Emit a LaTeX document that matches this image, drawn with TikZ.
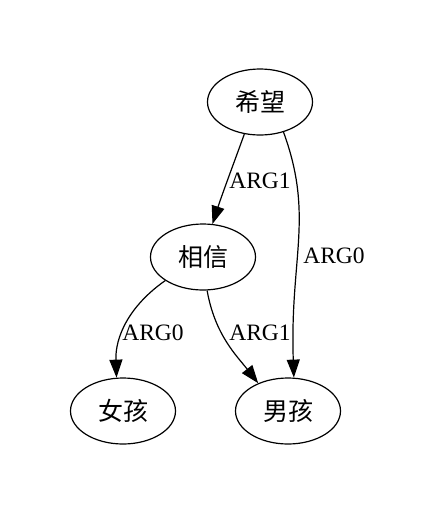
\documentclass[tikz,border=0pt]{standalone}
\usepackage{fontspec}
\setmainfont{Liberation Serif}
\newfontfamily\cjk{Noto Sans CJK SC}
\usetikzlibrary{arrows.meta,shapes.geometric}
\begin{document}
\begin{tikzpicture}[x=1pt,y=-1pt,
  concept/.style={draw,ellipse,line width=1.2pt,minimum width=105pt,minimum height=66pt,inner sep=0pt,font=\cjk\fontsize{25}{25}\selectfont},
  rel/.style={line width=1.2pt,-{Triangle[length=18pt,width=13pt]}},
  lab/.style={font=\fontsize{23.5}{23.5}\selectfont,inner sep=0pt}]
\useasboundingbox (0,0) rectangle (437,515);
\node[concept] (xw) at (260,102) {希望};
\node[concept] (xx) at (203,257) {相信};
\node[concept] (nv) at (123,411) {女孩};
\node[concept] (nan) at (288,411) {男孩};
\draw[rel] (xw.-116) .. controls +(110:30) and +(-72:30) .. (xx.74);
\draw[rel] (xw.-52) .. controls +(70:90) and +(-92:120) .. (nan.80);
\draw[rel] (xx.-148) .. controls +(145:45) and +(-92:40) .. (nv.101);
\draw[rel] (xx.-83) .. controls +(80:45) and +(-128:35) .. (nan.137);
\node[lab] (l1) at (260,181) {ARG1};
\node[lab] (l2) at (334,256) {ARG0};
\node[lab] (l3) at (153,333) {ARG0};
\node[lab] (l4) at (260,333) {ARG1};
\end{tikzpicture}
\end{document}
